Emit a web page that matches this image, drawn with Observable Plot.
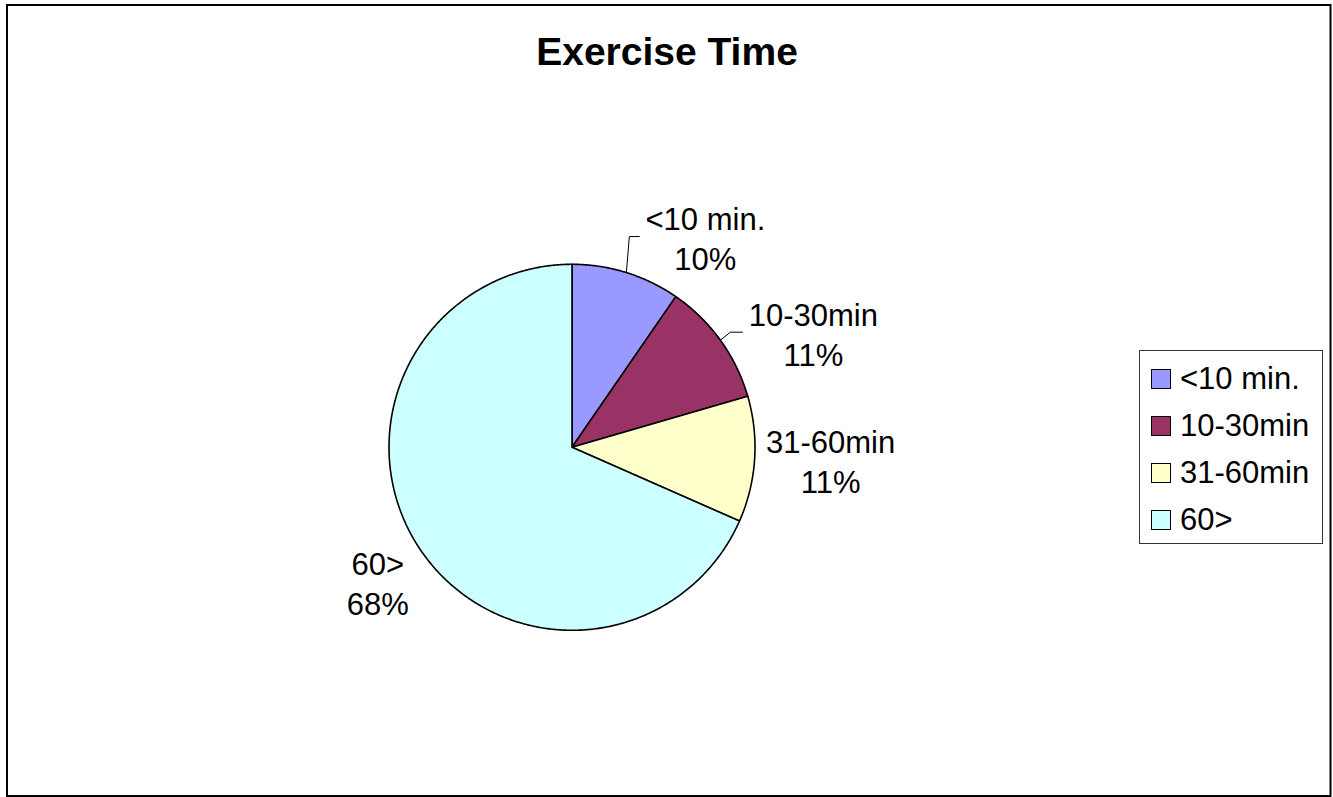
<!DOCTYPE html>
<html>
<head>
<meta charset="utf-8">
<script src="https://cdn.jsdelivr.net/npm/d3@7"></script>
<script src="https://cdn.jsdelivr.net/npm/@observablehq/plot@0.6"></script>
<style>
  html, body { margin: 0; padding: 0; background: #fff; }
  #wrap { position: relative; width: 1333px; height: 797px; font-family: "Liberation Sans", Arial, sans-serif; }
  #legend { position: absolute; left: 1139px; top: 350px; width: 184px; height: 194px; border: 1px solid #333; background: #fff; box-sizing: border-box; }
  .item { position: absolute; left: 11px; height: 30px; display: flex; align-items: center; font-size: 31px; color: #000; white-space: nowrap; }
  .sw { width: 18px; height: 18px; border: 1.5px solid #000; margin-right: 9px; }
</style>
</head>
<body>
<div id="wrap"></div>
<script>
// ---- data ----
const title = "Exercise Time";
const categories = ["<10 min.", "10-30min", "31-60min", "60>"];
const values = [9.6, 10.9, 11.1, 68.4];
const pctLabels = ["10%", "11%", "11%", "68%"];
const colors = ["#9999FF", "#993366", "#FFFFCC", "#CCFFFF"];

// ---- layout ----
const W = 1333, H = 797;
const cx = 571.5, cy = 446.8, R = 183;
const labelOffsets = [[79, -35], [93, -7], [76, 1], [-41, 35]]; // px from wedge mid-edge
const leaderOffsets = { 0: [[3, -36], [13, -36]], 1: [[10, -8], [22, -8]] };
const font = '"Liberation Sans", Arial, sans-serif';

const total = d3.sum(values);
let acc = 0;
const slices = categories.map((c, i) => {
  const a0 = acc / total * 2 * Math.PI;
  acc += values[i];
  const a1 = acc / total * 2 * Math.PI;
  return { cat: c, pct: pctLabels[i], a0, a1, mid: (a0 + a1) / 2, i };
});

// wedge outlines in unit coordinates (clockwise from 12 o'clock)
const wedgePts = [];
for (const s of slices) {
  wedgePts.push({ cat: s.cat, x: 0, y: 0 });
  const n = Math.max(2, Math.ceil((s.a1 - s.a0) / (Math.PI / 360)));
  for (let k = 0; k <= n; k++) {
    const a = s.a0 + (s.a1 - s.a0) * k / n;
    wedgePts.push({ cat: s.cat, x: Math.sin(a), y: Math.cos(a) });
  }
  wedgePts.push({ cat: s.cat, x: 0, y: 0 });
}

const labels = slices.map(s => {
  const [dx, dy] = labelOffsets[s.i];
  return { text: s.cat + "\n" + s.pct, x: Math.sin(s.mid) + dx / R, y: Math.cos(s.mid) - dy / R };
});

const leaders = [];
for (const s of slices) {
  const off = leaderOffsets[s.i];
  if (!off) continue;
  const ex = Math.sin(s.mid), ey = Math.cos(s.mid);
  leaders.push({ id: s.i, x: ex, y: ey });
  for (const [dx, dy] of off) leaders.push({ id: s.i, x: ex + dx / R, y: ey - dy / R });
}

const chart = Plot.plot({
  width: W, height: H,
  margin: 0,
  x: { domain: [-1, 1], range: [cx - R, cx + R], axis: null },
  y: { domain: [-1, 1], range: [cy + R, cy - R], axis: null },
  color: { domain: categories, range: colors },
  style: { fontFamily: font, background: "#fff", overflow: "visible" },
  marks: [
    Plot.frame({ stroke: "#000", strokeWidth: 2, insetLeft: 6.5, insetTop: 4.5, insetRight: 3, insetBottom: 1.5 }),
    Plot.text([title], { frameAnchor: "top", lineAnchor: "top", dy: 37, text: d => d, fontSize: 39, fontWeight: "bold", fill: "#000" }),
    Plot.line(wedgePts, { x: "x", y: "y", z: "cat", fill: "cat", stroke: "#000", strokeWidth: 1.6, curve: "linear" }),
    Plot.line(leaders, { x: "x", y: "y", z: "id", stroke: "#000", strokeWidth: 1, curve: "linear" }),
    Plot.text(labels, { x: "x", y: "y", text: "text", fontSize: 31, lineHeight: 1.29, fill: "#000", textAnchor: "middle", lineAnchor: "middle" })
  ]
});

const wrap = document.getElementById("wrap");
wrap.appendChild(chart);

// legend
const legend = document.createElement("div");
legend.id = "legend";
categories.forEach((c, i) => {
  const it = document.createElement("div");
  it.className = "item";
  it.style.top = (13 + i * 47) + "px";
  const sw = document.createElement("span");
  sw.className = "sw";
  sw.style.background = colors[i];
  const tx = document.createElement("span");
  tx.textContent = c;
  it.appendChild(sw); it.appendChild(tx);
  legend.appendChild(it);
});
wrap.appendChild(legend);
</script>
</body>
</html>
